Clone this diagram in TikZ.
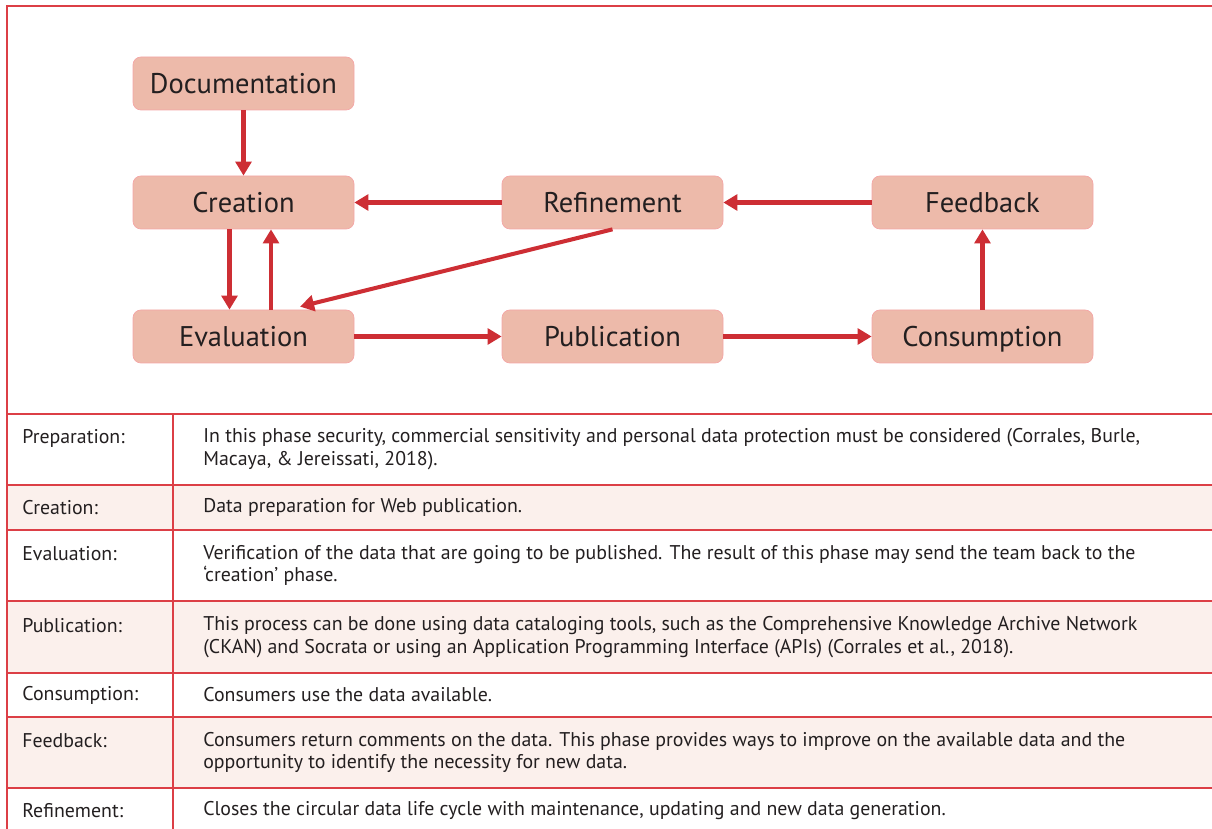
\documentclass[tikz,border=0pt]{standalone}
\usepackage{fontspec}
\setmainfont{PT Sans}
\usetikzlibrary{arrows.meta}
\definecolor{boxfill}{HTML}{EDBAAA}
\definecolor{boxline}{HTML}{F4A6A6}
\definecolor{arrowred}{HTML}{CD2E34}
\definecolor{rulered}{HTML}{DC3F46}
\definecolor{rowfill}{HTML}{FBF0EC}
\definecolor{ink}{HTML}{231F20}
\tikzstyle{phase} = [draw=boxline, fill=boxfill, rounded corners=0.16cm, minimum width=4.42cm, minimum height=1.06cm, text height=11.4pt, text depth=0pt, text=ink, font=\fontsize{16.2}{19}\selectfont]
\tikzstyle{arrow} = [draw=arrowred, line width=2.3pt, -{Triangle[length=8pt,width=9pt]}]
\tikzstyle{rule} = [draw=rulered, line width=0.8pt]
\tikzstyle{shaded} = [fill=rowfill]
\tikzstyle{cell} = [anchor=west, inner sep=0pt, align=left, text=ink, font=\fontsize{11.3}{13}\selectfont]

\begin{document}
\begin{tikzpicture}
	\useasboundingbox (0,0) rectangle (24.24,-16.58);

	% shaded rows of the table
	\fill[shaded] (0.14,-9.70) rectangle (24.24,-10.60);
	\fill[shaded] (0.14,-12.02) rectangle (24.24,-13.46);
	\fill[shaded] (0.14,-14.34) rectangle (24.24,-15.76);

	% frame and table rules
	\draw[rule] (0.14,-16.58) -- (0.14,-0.12) -- (24.24,-0.12);
	\draw[rule] (0.14,-8.28) -- (24.24,-8.28);
	\draw[rule] (0.14,-9.70) -- (24.24,-9.70);
	\draw[rule] (0.14,-10.60) -- (24.24,-10.60);
	\draw[rule] (0.14,-12.02) -- (24.24,-12.02);
	\draw[rule] (0.14,-13.46) -- (24.24,-13.46);
	\draw[rule] (0.14,-14.34) -- (24.24,-14.34);
	\draw[rule] (0.14,-15.76) -- (24.24,-15.76);
	\draw[rule] (3.46,-8.28) -- (3.46,-16.58);

	% life cycle
	\node[phase](doc) at (4.87,-1.67){Documentation};
	\node[phase](creation) at (4.87,-4.05){Creation};
	\node[phase](refinement) at (12.25,-4.05){Refinement};
	\node[phase](feedback) at (19.65,-4.05){Feedback};
	\node[phase](evaluation) at (4.87,-6.73){Evaluation};
	\node[phase](publication) at (12.25,-6.73){Publication};
	\node[phase](consumption) at (19.65,-6.73){Consumption};

	\draw[arrow](doc) -- (creation);
	\draw[arrow]([xshift=-0.28cm]creation.south) -- ([xshift=-0.28cm]evaluation.north);
	\draw[arrow]([xshift=0.55cm]evaluation.north) -- ([xshift=0.55cm]creation.south);
	\draw[arrow](refinement) -- (creation);
	\draw[arrow](refinement.south) -- ([xshift=1.13cm,yshift=0.06cm]evaluation.north);
	\draw[arrow](evaluation) -- (publication);
	\draw[arrow](publication) -- (consumption);
	\draw[arrow](consumption) -- (feedback);
	\draw[arrow](feedback) -- (refinement);

	% table text, labels level with the first line
	\node[cell](prep-l) at (0.44,-8.76){Preparation:};
	\node[cell](prep-d) at (4.06,-8.99){In this phase security, commercial sensitivity and personal data protection must be considered (Corrales, Burle,\\Macaya, \& Jereissati, 2018).};
	\node[cell](crea-l) at (0.44,-10.15){Creation:};
	\node[cell](crea-d) at (4.06,-10.15){Data preparation for Web publication.};
	\node[cell](eval-l) at (0.44,-11.08){Evaluation:};
	\node[cell](eval-d) at (4.06,-11.31){Verification of the data that are going to be published. The result of this phase may send the team back to the\\`creation' phase.};
	\node[cell](publ-l) at (0.44,-12.51){Publication:};
	\node[cell](publ-d) at (4.06,-12.74){This process can be done using data cataloging tools, such as the Comprehensive Knowledge Archive Network\\(CKAN) and Socrata or using an Application Programming Interface (APIs) (Corrales et al., 2018).};
	\node[cell](cons-l) at (0.44,-13.90){Consumption:};
	\node[cell](cons-d) at (4.06,-13.90){Consumers use the data available.};
	\node[cell](feed-l) at (0.44,-14.82){Feedback:};
	\node[cell](feed-d) at (4.06,-15.05){Consumers return comments on the data. This phase provides ways to improve on the available data and the\\opportunity to identify the necessity for new data.};
	\node[cell](refi-l) at (0.44,-16.21){Refinement:};
	\node[cell](refi-d) at (4.06,-16.21){Closes the circular data life cycle with maintenance, updating and new data generation.};
\end{tikzpicture}
\end{document}
